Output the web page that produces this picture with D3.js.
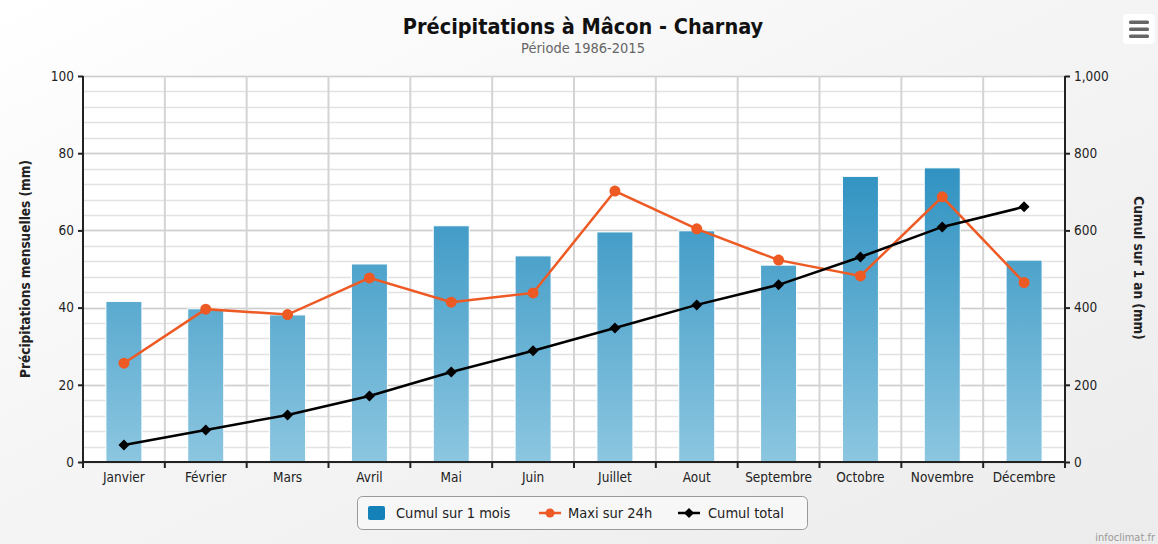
<!DOCTYPE html>
<html><head><meta charset="utf-8">
<script src="https://cdn.jsdelivr.net/npm/d3@7"></script>
<style>body{margin:0;background:#fff}svg{display:block}</style>
</head><body><svg id="c" width="1158" height="544"></svg>
<script>
const months = ["Janvier","Février","Mars","Avril","Mai","Juin","Juillet","Aout","Septembre","Octobre","Novembre","Décembre"];
const cumulMois = [41.6,39.7,38.1,51.3,61.2,53.4,59.6,59.9,51.0,74.0,76.2,52.3];
const maxi24h = [25.6,39.6,38.2,47.7,41.4,43.8,70.2,60.4,52.3,48.2,68.7,46.5];
const cumulTotal = [44,83,122,171,233,288,347,407,459,531,609,661];
const leftTicks = [0,20,40,60,80,100];
const rightTicks = [0,200,400,600,800,1000];

const W=1158,H=544;
const svg=d3.select("#c");
const font="'DejaVu Sans Condensed','DejaVu Sans',sans-serif";
const defs=svg.append("defs");
const bg=defs.append("linearGradient").attr("id","bg").attr("x1",0).attr("y1",0).attr("x2",1).attr("y2",1);
bg.append("stop").attr("offset","0").attr("stop-color","#ffffff");
bg.append("stop").attr("offset","0.5").attr("stop-color","#f4f4f4");
bg.append("stop").attr("offset","1").attr("stop-color","#ececec");
svg.append("rect").attr("width",W).attr("height",H).attr("fill","url(#bg)");

const m={l:83,r:1065,t:76,b:462};
const x=d3.scaleBand().domain(months).range([m.l,m.r]).paddingInner(0.56).paddingOuter(0.28);
const xc=d3.scaleBand().domain(months).range([m.l,m.r]);
const yL=d3.scaleLinear().domain([0,100]).range([m.b,m.t]);
const yR=d3.scaleLinear().domain([0,1000]).range([m.b,m.t]);

const bar=defs.append("linearGradient").attr("id","bar").attr("gradientUnits","userSpaceOnUse")
  .attr("x1",0).attr("x2",0).attr("y1",m.t).attr("y2",m.b);
bar.append("stop").attr("offset","0").attr("stop-color","#1482b8");
bar.append("stop").attr("offset","1").attr("stop-color","#8cc6e0");

svg.append("rect").attr("x",m.l).attr("y",m.t).attr("width",m.r-m.l).attr("height",m.b-m.t).attr("fill","#fff");

const g=svg.append("g");
g.selectAll(".hm").data(d3.range(0,101,4)).join("line")
  .attr("x1",m.l).attr("x2",m.r).attr("y1",d=>Math.round(yL(d))+0.5).attr("y2",d=>Math.round(yL(d))+0.5)
  .attr("stroke","#e2e2e2").attr("stroke-width",1.5);
g.selectAll(".hM").data(leftTicks).join("line")
  .attr("x1",m.l).attr("x2",m.r).attr("y1",d=>Math.round(yL(d))+0.5).attr("y2",d=>Math.round(yL(d))+0.5)
  .attr("stroke","#cecece").attr("stroke-width",1.5);
g.selectAll(".v").data(months.slice(1)).join("line")
  .attr("x1",d=>xc(d)).attr("x2",d=>xc(d)).attr("y1",m.t).attr("y2",m.b)
  .attr("stroke","#d4d4d4").attr("stroke-width",2);

svg.append("g").selectAll("rect").data(months).join("rect")
  .attr("x",d=>x(d)).attr("width",x.bandwidth())
  .attr("y",(d,i)=>yL(cumulMois[i])).attr("height",(d,i)=>m.b-yL(cumulMois[i]))
  .attr("fill","url(#bar)").attr("stroke","#fff").attr("stroke-width",1);

const axL=svg.append("g").attr("transform",`translate(${m.l},0)`)
  .call(d3.axisLeft(yL).tickValues(leftTicks).tickSize(5).tickPadding(4));
const axR=svg.append("g").attr("transform",`translate(${m.r},0)`)
  .call(d3.axisRight(yR).tickValues(rightTicks).tickSize(5).tickPadding(4).tickFormat(d3.format(",")));
const axB=svg.append("g").attr("transform",`translate(0,${m.b})`)
  .call(d3.axisBottom(xc).tickSize(6).tickPadding(4));
axB.selectAll(".tick line").attr("transform",d=>`translate(${-xc.bandwidth()/2},0)`);
axB.append("line").attr("x1",m.r).attr("x2",m.r).attr("y1",0).attr("y2",6).attr("stroke","#222").attr("stroke-width",2);
[axL,axR,axB].forEach(a=>{
  a.select(".domain").attr("stroke","#222").attr("stroke-width",2);
  a.selectAll(".tick line").attr("stroke","#222").attr("stroke-width",2);
  a.selectAll("text").attr("font-family",font).attr("font-size",13.5).attr("fill","#222");
});
axB.select(".domain").attr("d",`M${m.l},0H${m.r}`);
axL.select(".domain").attr("d",`M0,${m.b}V${m.t}`);
axR.select(".domain").attr("d",`M0,${m.b}V${m.t}`);

const cx=i=>xc(months[i])+xc.bandwidth()/2;
const lineL=d3.line().x((d,i)=>cx(i)).y(d=>yL(d));
const lineR=d3.line().x((d,i)=>cx(i)).y(d=>yR(d));
svg.append("path").datum(maxi24h).attr("d",lineL).attr("fill","none").attr("stroke","#ee5a24").attr("stroke-width",2.5);
svg.append("g").selectAll("circle").data(maxi24h).join("circle")
  .attr("cx",(d,i)=>cx(i)).attr("cy",d=>yL(d)).attr("r",5.5).attr("fill","#ee5a24");
svg.append("path").datum(cumulTotal).attr("d",lineR).attr("fill","none").attr("stroke","#000").attr("stroke-width",2.5);
const dia=r=>`M0,${-r}L${r},0L0,${r}L${-r},0Z`;
svg.append("g").selectAll("path").data(cumulTotal).join("path")
  .attr("d",dia(5.5)).attr("transform",(d,i)=>`translate(${cx(i)},${yR(d)})`).attr("fill","#000");

svg.append("text").attr("x",583).attr("y",34).attr("text-anchor","middle").attr("font-family",font)
  .attr("font-weight","bold").attr("font-size",21.5).attr("fill","#111").text("Précipitations à Mâcon - Charnay");
svg.append("text").attr("x",583).attr("y",53).attr("text-anchor","middle").attr("font-family",font)
  .attr("font-size",14.5).attr("fill","#666").text("Période 1986-2015");
svg.append("text").attr("transform",`translate(30,269) rotate(-90)`).attr("text-anchor","middle").attr("font-family",font)
  .attr("font-weight","bold").attr("font-size",13.5).attr("fill","#222").text("Précipitations mensuelles (mm)");
svg.append("text").attr("transform",`translate(1134,268) rotate(90)`).attr("text-anchor","middle").attr("font-family",font)
  .attr("font-weight","bold").attr("font-size",13.5).attr("fill","#222").text("Cumul sur 1 an (mm)");

const lg=svg.append("g");
lg.append("rect").attr("x",357.5).attr("y",496.5).attr("width",450).attr("height",33).attr("rx",5)
  .attr("fill","#f7f7f7").attr("stroke","#999").attr("stroke-width",1);
lg.append("rect").attr("x",368).attr("y",506).attr("width",17).attr("height",14).attr("rx",2).attr("fill","#1482b8");
lg.append("text").attr("x",396).attr("y",518).text("Cumul sur 1 mois");
lg.append("line").attr("x1",539).attr("x2",561).attr("y1",513).attr("y2",513).attr("stroke","#ee5a24").attr("stroke-width",2.5);
lg.append("circle").attr("cx",550).attr("cy",513).attr("r",4.5).attr("fill","#ee5a24");
lg.append("text").attr("x",568).attr("y",518).text("Maxi sur 24h");
lg.append("line").attr("x1",678).attr("x2",700).attr("y1",513).attr("y2",513).attr("stroke","#000").attr("stroke-width",2.5);
lg.append("path").attr("d",dia(5)).attr("transform","translate(689,513)").attr("fill","#000");
lg.append("text").attr("x",708).attr("y",518).text("Cumul total");
lg.selectAll("text").attr("font-family",font).attr("font-size",14.5).attr("fill","#222");

svg.append("rect").attr("x",1123).attr("y",14).attr("width",32).attr("height",30).attr("rx",4).attr("fill","#fff");
[22,29,36].forEach(yy=>svg.append("rect").attr("x",1129).attr("y",yy-1.5).attr("width",20).attr("height",3.5).attr("rx",1.5).attr("fill","#666"));

svg.append("text").attr("x",1155).attr("y",541).attr("text-anchor","end").attr("font-family",font)
  .attr("font-size",11).attr("fill","#999").text("infoclimat.fr");
</script></body></html>
